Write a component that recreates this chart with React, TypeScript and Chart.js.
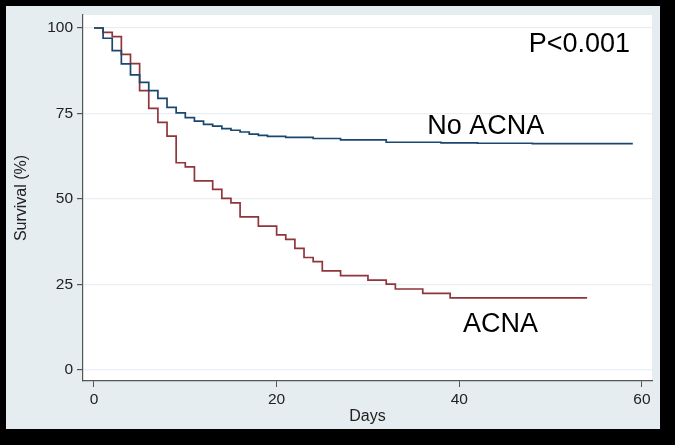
import React, { useEffect, useRef } from "react";
import { Chart, registerables } from "chart.js";

Chart.register(...registerables);

const noAcnaDays = [0, 1, 2, 3, 4, 5, 6, 7, 8, 9, 10, 11, 12, 13, 14, 15, 16, 17, 18, 19, 21, 24, 27, 32, 38, 42, 48, 59];
const noAcnaSurvival = [100, 97.0, 93.4, 89.5, 86.3, 84.1, 81.7, 79.4, 76.8, 75.2, 73.8, 72.8, 71.8, 71.3, 70.6, 70.1, 69.6, 69.0, 68.6, 68.3, 68.0, 67.7, 67.3, 66.6, 66.4, 66.3, 66.2, 66.2];

const acnaDays = [0, 1, 2, 3, 4, 5, 6, 7, 8, 9, 10, 11, 13, 14, 15, 16, 18, 20, 21, 22, 23, 24, 25, 27, 30, 32, 33, 36, 39, 54];
const acnaSurvival = [100, 98.7, 97.5, 92.3, 89.6, 81.7, 76.5, 72.4, 68.4, 60.6, 59.4, 55.3, 52.8, 50.2, 48.9, 44.8, 42.1, 39.5, 38.2, 35.6, 32.9, 31.7, 29.0, 27.6, 26.3, 25.1, 23.7, 22.4, 21.1, 21.1];

const xTicks = [0, 20, 40, 60];
const yTicks = [0, 25, 50, 75, 100];

const noteTexts = ["P<0.001", "No ACNA", "ACNA"];
const noteDays = [47.6, 36.5, 40.4];
const noteValues = [93.1, 69.0, 11.1];

const FONT = "'Liberation Sans', Arial, Helvetica, sans-serif";

export default function App() {
  const ref = useRef<HTMLCanvasElement | null>(null);

  useEffect(() => {
    const canvas = ref.current;
    if (!canvas) return;

    const bgPlugin = {
      id: "stataBg",
      beforeDraw(chart: any) {
        const { ctx, chartArea } = chart;
        ctx.save();
        ctx.fillStyle = "#000000";
        ctx.fillRect(0, 0, chart.width, chart.height);
        ctx.fillStyle = "#E5EDF0";
        ctx.fillRect(6, 6, 654, 423);
        ctx.fillStyle = "#FFFFFF";
        ctx.fillRect(chartArea.left, chartArea.top, chartArea.right - chartArea.left, chartArea.bottom - chartArea.top);
        ctx.restore();
      },
    };

    const notesPlugin = {
      id: "notes",
      afterDatasetsDraw(chart: any) {
        const { ctx, scales } = chart;
        ctx.save();
        ctx.fillStyle = "#000000";
        ctx.font = `27px ${FONT}`;
        ctx.textAlign = "left";
        ctx.textBaseline = "alphabetic";
        noteTexts.forEach((t, i) => {
          ctx.fillText(t, scales.x.getPixelForValue(noteDays[i]), scales.y.getPixelForValue(noteValues[i]));
        });
        ctx.restore();
      },
    };

    const chart = new Chart(canvas, {
      type: "line",
      data: {
        datasets: [
          {
            label: "No ACNA",
            data: noAcnaDays.map((d, i) => ({ x: d, y: noAcnaSurvival[i] })),
            borderColor: "#1A476F",
            borderWidth: 1.7,
            pointRadius: 0,
            stepped: "before",
            fill: false,
          },
          {
            label: "ACNA",
            data: acnaDays.map((d, i) => ({ x: d, y: acnaSurvival[i] })),
            borderColor: "#90353B",
            borderWidth: 1.7,
            pointRadius: 0,
            stepped: "before",
            fill: false,
          },
        ],
      },
      options: {
        animation: false,
        responsive: false,
        devicePixelRatio: 1,
        layout: { padding: { left: 6, top: 15, right: 23, bottom: 16 } },
        plugins: {
          legend: { display: false },
          tooltip: { enabled: false },
        },
        scales: {
          x: {
            type: "linear",
            min: -1.2,
            max: 61.1,
            afterBuildTicks: (s: any) => {
              s.ticks = xTicks.map((v) => ({ value: v }));
            },
            afterFit: (s: any) => {
              s.height = 48;
            },
            grid: {
              drawOnChartArea: false,
              drawTicks: true,
              tickLength: 6,
              tickColor: "#555555",
            },
            border: { display: true, color: "#555555", width: 1.2 },
            ticks: {
              color: "#222222",
              font: { family: FONT, size: 15.5 },
              padding: 3,
              maxRotation: 0,
            },
            title: {
              display: true,
              text: "Days",
              color: "#222222",
              font: { family: FONT, size: 16 },
              padding: { top: 0, bottom: 3 },
            },
          },
          y: {
            type: "linear",
            min: -3.2,
            max: 103.8,
            afterBuildTicks: (s: any) => {
              s.ticks = yTicks.map((v) => ({ value: v }));
            },
            afterFit: (s: any) => {
              s.width = 77;
            },
            grid: {
              drawOnChartArea: true,
              color: "#E8EFF2",
              lineWidth: 1.2,
              drawTicks: true,
              tickLength: 6,
              tickColor: "#555555",
            },
            border: { display: true, color: "#555555", width: 1.2 },
            ticks: {
              color: "#222222",
              font: { family: FONT, size: 15.5 },
              padding: 4,
            },
            title: {
              display: true,
              text: "Survival (%)",
              color: "#222222",
              font: { family: FONT, size: 16 },
              padding: { top: 6, bottom: 0 },
            },
          },
        },
      },
      plugins: [bgPlugin, notesPlugin],
    });

    return () => chart.destroy();
  }, []);

  return (
    <div style={{ position: "fixed", left: 0, top: 0, width: 675, height: 445, background: "#000" }}>
      <canvas ref={ref} width={675} height={445} style={{ display: "block" }} />
    </div>
  );
}
